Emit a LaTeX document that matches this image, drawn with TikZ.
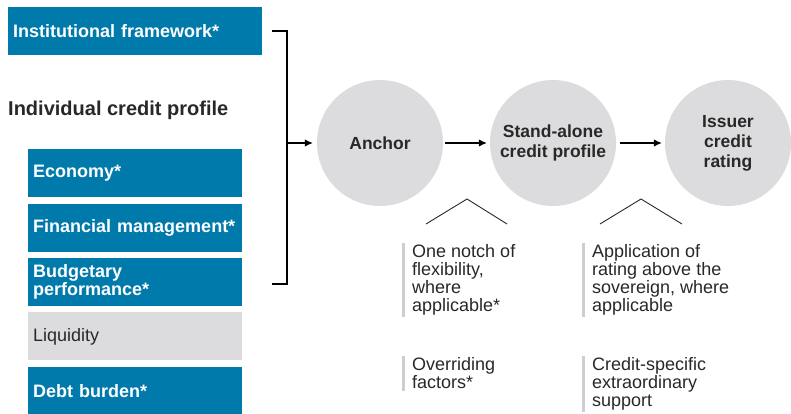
\documentclass[tikz,border=0pt]{standalone}
\usepackage{fontspec}
\setmainfont{Liberation Sans}
\usepackage{xcolor}
\usetikzlibrary{arrows.meta,positioning}
\definecolor{spblue}{RGB}{0,121,171}
\definecolor{spgrey}{RGB}{220,220,222}
\definecolor{bargrey}{RGB}{206,206,208}
\definecolor{inkgrey}{RGB}{40,40,40}

\begin{document}
\begin{tikzpicture}[
    x=1pt, y=-1pt,
    >={Latex[length=8pt,width=7.5pt]},
    node distance=6pt,
    font=\fontsize{18}{18}\selectfont,
    factor/.style={
		rectangle,
		fill=spblue,
		text=white,
		font=\bfseries\fontsize{18}{17.5}\selectfont,
		minimum width=214pt,
		minimum height=48pt,
		text width=204pt,
		inner xsep=5pt,
		inner ysep=0pt,
		align=left
	},
	plain/.style={
		factor,
		fill=spgrey,
		text=inkgrey,
		font=\fontsize{18}{17.5}\selectfont
	},
	step circle/.style={
		circle,
		fill=spgrey,
		minimum size=126pt,
		inner sep=0pt,
		align=center,
		text=inkgrey,
		font=\bfseries\fontsize{17.5}{20}\selectfont
	},
	note/.style={
		anchor=north west,
		align=left,
		inner sep=0pt,
		text=inkgrey
	},
	flow/.style={->, line width=1.2pt, draw=black},
	bracket/.style={line width=1.2pt, draw=black},
	chevron/.style={line width=0.9pt, draw=inkgrey},
	bar/.style={line width=3pt, draw=bargrey}
  ]
  \useasboundingbox (0,0) rectangle (791,414);

  % The factor blocks on the left
  \node [factor, minimum width=254pt, text width=244pt, anchor=north west] (inst) at (8,7) {Institutional framework*};
  \node [anchor=west, inner sep=0pt, text=inkgrey, font=\bfseries\fontsize{20}{20}\selectfont] (icp) at (8,110) {Individual credit profile};

  \node [factor, anchor=north west] (econ) at (28,149) {Economy*};
  \node [factor, below=of econ] (fin) {Financial management*};
  \node [factor, below=of fin] (budget) {Budgetary\\performance*};
  \node [plain, below=of budget] (liq) {Liquidity};
  \node [factor, below=of liq] (debt) {Debt burden*};

  % The three steps
  \node [step circle] (anchor) at (380,143) {Anchor};
  \node [step circle] (sacp) at (553,143) {Stand-alone\\credit profile};
  \node [step circle] (icr) at (728,143) {Issuer\\credit\\rating};

  % Bracket gathering the factors
  \coordinate (brtop) at (272,31);
  \coordinate (brbot) at (272,284);
  \coordinate (brmid) at (287,143);
  \draw [bracket] (brtop) -- ++(15,0) |- (brbot);
  \draw [flow] (brmid) -- ([xshift=-4pt]anchor.west);
  \draw [flow] ([xshift=2pt]anchor.east) -- ([xshift=-3pt]sacp.west);
  \draw [flow] ([xshift=4pt]sacp.east) -- ([xshift=-3pt]icr.west);

  % Adjustments below the steps
  \draw [chevron] (426,224) -- (467,199) -- (507,224);
  \draw [chevron] (600,224) -- (641,199) -- (682,224);

  \node [note] (flex) at (412,244) {One notch of\\flexibility,\\where\\applicable*};
  \node [note] (above) at (592,244) {Application of\\rating above the\\sovereign, where\\applicable};
  \node [note] (over) at (412,357) {Overriding\\factors*};
  \node [note] (support) at (592,357) {Credit-specific\\extraordinary\\support};

  \foreach \n in {flex,above,over,support}
    \draw [bar] ([xshift=-8.5pt,yshift=1pt]\n.north west) -- ([xshift=-8.5pt,yshift=-2pt]\n.south west);
\end{tikzpicture}
\end{document}
